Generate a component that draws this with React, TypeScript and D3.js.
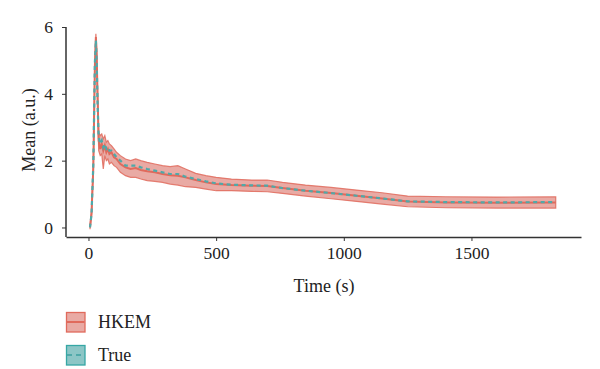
import React, { useEffect, useRef } from 'react';
import * as d3 from 'd3';

const WIDTH = 600;
const HEIGHT = 369;

const MARGIN = { top: 27, right: 19, bottom: 132, left: 66 };

// time stamps (s)
const time = [6, 12, 19, 25, 29, 32, 36, 40, 46, 52, 58, 64, 70, 76, 82, 90, 100, 110, 125, 145, 165, 185, 205, 230, 260, 290, 320, 350, 380, 420, 460, 500, 560, 640, 700, 760, 850, 950, 1050, 1150, 1250, 1400, 1600, 1830];

// HKEM mean and its band
const hkemMean = [0, 0.42, 1.8, 4.8, 5.7, 5.2, 3.8, 2.6, 2.35, 2.5, 2.3, 2.45, 2.25, 2.35, 2.2, 2.25, 2.1, 2.05, 1.9, 1.8, 1.75, 1.78, 1.72, 1.68, 1.65, 1.6, 1.56, 1.55, 1.5, 1.42, 1.35, 1.3, 1.27, 1.25, 1.24, 1.18, 1.1, 1.03, 0.95, 0.87, 0.78, 0.75, 0.74, 0.75];
const hkemUpper = [0.05, 0.5, 1.9, 4.9, 5.8, 5.35, 4.0, 2.85, 2.75, 2.8, 2.65, 2.75, 2.55, 2.6, 2.5, 2.45, 2.35, 2.25, 2.15, 2.05, 2.0, 2.05, 2.0, 1.95, 1.9, 1.85, 1.82, 1.85, 1.75, 1.62, 1.55, 1.5, 1.45, 1.42, 1.42, 1.35, 1.27, 1.2, 1.12, 1.04, 0.94, 0.92, 0.91, 0.92];
const hkemLower = [-0.05, 0.35, 1.7, 4.7, 5.6, 5.05, 3.6, 2.3, 2.15, 2.2, 1.75, 2.15, 2.0, 2.05, 1.9, 1.95, 1.85, 1.8, 1.65, 1.55, 1.5, 1.5, 1.45, 1.4, 1.38, 1.35, 1.3, 1.27, 1.22, 1.2, 1.15, 1.1, 1.1, 1.08, 1.07, 1.02, 0.94, 0.86, 0.78, 0.7, 0.62, 0.59, 0.58, 0.58];

// ground truth
const trueVals = [0, 0.4, 1.9, 4.9, 5.6, 5.0, 3.6, 2.7, 2.5, 2.6, 2.4, 2.5, 2.35, 2.4, 2.3, 2.3, 2.2, 2.1, 2.0, 1.85, 1.85, 1.85, 1.8, 1.75, 1.7, 1.65, 1.6, 1.6, 1.52, 1.45, 1.38, 1.32, 1.28, 1.26, 1.25, 1.18, 1.1, 1.03, 0.95, 0.87, 0.78, 0.76, 0.75, 0.76];

const xTicks = [0, 500, 1000, 1500];
const yTicks = [0, 2, 4, 6];

const legendItems = ['HKEM', 'True'];

const RED = '#e06a5c';
const RED_FILL = '#e9aaa4';
const TEAL = '#4fa9a9';
const TEAL_FILL = '#8cc6c6';
const FONT = '"Liberation Serif", "DejaVu Serif", serif';

export default function App() {
  const ref = useRef<SVGSVGElement>(null);

  useEffect(() => {
    const svg = d3.select(ref.current);
    svg.selectAll('*').remove();

    const x = d3.scaleLinear()
      .domain([-88, 1929])
      .range([MARGIN.left, WIDTH - MARGIN.right]);

    const y = d3.scaleLinear()
      .domain([-0.285, 6])
      .range([HEIGHT - MARGIN.bottom, MARGIN.top]);

    const rows = time.map((t, i) => ({
      t,
      mean: hkemMean[i],
      hi: hkemUpper[i],
      lo: hkemLower[i],
      tr: trueVals[i],
    }));

    const band = d3.area<any>()
      .x(d => x(d.t))
      .y0(d => y(d.lo))
      .y1(d => y(d.hi));

    svg.append('path')
      .datum(rows)
      .attr('d', band)
      .attr('fill', RED_FILL)
      .attr('stroke', RED)
      .attr('stroke-width', 1.2)
      .attr('stroke-opacity', 0.85);

    svg.append('path')
      .datum(rows)
      .attr('d', d3.line<any>().x(d => x(d.t)).y(d => y(d.mean)))
      .attr('fill', 'none')
      .attr('stroke', RED)
      .attr('stroke-width', 2);

    svg.append('path')
      .datum(rows)
      .attr('d', d3.line<any>().x(d => x(d.t)).y(d => y(d.tr)))
      .attr('fill', 'none')
      .attr('stroke', TEAL)
      .attr('stroke-width', 2.2)
      .attr('stroke-dasharray', '4,3.5');

    const xAxis = g => g.attr('transform', `translate(0, ${HEIGHT - MARGIN.bottom})`)
      .call(d3.axisBottom(x)
        .tickValues(xTicks)
        .tickFormat(d3.format('d'))
        .tickSize(4)
        .tickSizeOuter(0)
        .tickPadding(6)
      )
      .call(g => g.select('.domain').attr('stroke', '#333').attr('stroke-width', 1.5))
      .call(g => g.selectAll('.tick line').attr('stroke', '#333'))
      .call(g => g.selectAll('text')
        .attr('font-family', FONT)
        .attr('font-size', 17.5)
        .attr('fill', '#222'));

    const yAxis = g => g.attr('transform', `translate(${MARGIN.left}, 0)`)
      .call(d3.axisLeft(y)
        .tickValues(yTicks)
        .tickFormat(d3.format('d'))
        .tickSize(4)
        .tickSizeOuter(0)
        .tickPadding(9)
      )
      .call(g => g.select('.domain')
        .attr('d', `M0,${y(6)}V${HEIGHT - MARGIN.bottom}`)
        .attr('stroke', '#333')
        .attr('stroke-width', 1.5))
      .call(g => g.selectAll('.tick line').attr('stroke', '#333'))
      .call(g => g.selectAll('text')
        .attr('font-family', FONT)
        .attr('font-size', 17.5)
        .attr('fill', '#222'));

    svg.append('g').call(xAxis);
    svg.append('g').call(yAxis);

    svg.append('text')
      .attr('x', 324)
      .attr('y', 292)
      .attr('text-anchor', 'middle')
      .attr('font-family', FONT)
      .attr('font-size', 18)
      .attr('fill', '#222')
      .text('Time (s)');

    svg.append('text')
      .attr('transform', 'translate(35, 130) rotate(-90)')
      .attr('text-anchor', 'middle')
      .attr('font-family', FONT)
      .attr('font-size', 18)
      .attr('fill', '#222')
      .text('Mean (a.u.)');

    const legend = svg.append('g').attr('transform', 'translate(66, 312)');

    legendItems.forEach((name, i) => {
      const g = legend.append('g').attr('transform', `translate(0, ${i * 33})`);
      const isTrue = name === 'True';
      g.append('rect')
        .attr('x', 0.5)
        .attr('y', 0.5)
        .attr('width', 18.5)
        .attr('height', 19.5)
        .attr('fill', isTrue ? TEAL_FILL : RED_FILL)
        .attr('stroke', isTrue ? '#35a7a5' : RED)
        .attr('stroke-width', 1.3);
      g.append('line')
        .attr('x1', 1)
        .attr('x2', 18.5)
        .attr('y1', 10)
        .attr('y2', 10)
        .attr('stroke', isTrue ? TEAL : RED)
        .attr('stroke-width', 2)
        .attr('stroke-dasharray', isTrue ? '5,4' : null);
      g.append('text')
        .attr('x', 32)
        .attr('y', 16)
        .attr('font-family', FONT)
        .attr('font-size', 18)
        .attr('fill', '#222')
        .text(name);
    });
  }, []);

  return (
    <svg
      ref={ref}
      width={WIDTH}
      height={HEIGHT}
      viewBox={`0 0 ${WIDTH} ${HEIGHT}`}
      style={{ position: 'absolute', left: 0, top: 0, background: '#fff' }}
    />
  );
}
